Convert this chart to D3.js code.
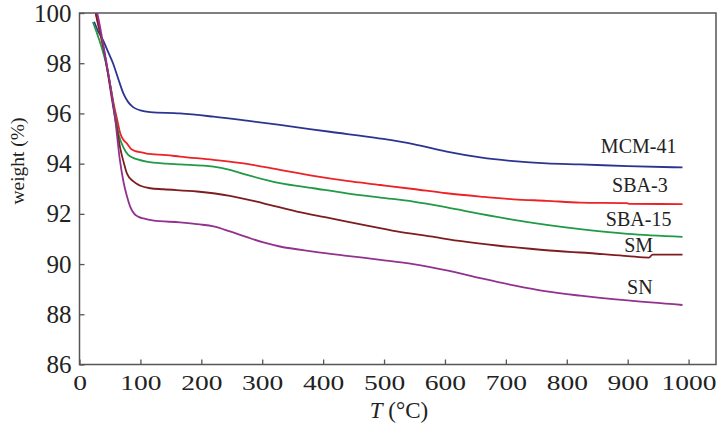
<!DOCTYPE html>
<html>
<head>
<meta charset="utf-8">
<script src="https://cdn.jsdelivr.net/npm/d3@7"></script>
<style>
  body { margin: 0; background: #fff; }
  text { font-family: "Liberation Serif", "Times New Roman", Times, serif; fill: #222; }
</style>
</head>
<body>
<svg id="chart" width="718" height="425"></svg>
<script>
// TGA curves (temperature in °C, weight in %)
const tMCM = [24, 30, 39, 47, 55, 64, 72, 80, 88, 100, 116, 165, 220, 275, 329, 411, 494, 548, 603, 658, 713, 767, 822, 900, 990];
const wMCM = [99.65, 99.3, 98.9, 98.45, 98.0, 97.35, 96.8, 96.45, 96.25, 96.12, 96.05, 96.0, 95.87, 95.71, 95.54, 95.27, 95.0, 94.78, 94.48, 94.25, 94.1, 94.01, 93.97, 93.9, 93.85];

const tSBA3 = [24, 34, 42, 50, 56, 62, 67, 72, 78, 84, 92, 100, 110, 143, 165, 220, 275, 329, 384, 439, 494, 548, 603, 658, 713, 767, 822, 898, 902, 990];
const wSBA3 = [100.3, 99.2, 98.2, 97.2, 96.4, 95.73, 95.2, 94.95, 94.8, 94.6, 94.5, 94.46, 94.4, 94.34, 94.28, 94.15, 93.99, 93.75, 93.51, 93.31, 93.15, 92.99, 92.82, 92.69, 92.58, 92.52, 92.45, 92.43, 92.40, 92.39];

const tSBA15 = [22, 30, 38, 45, 52, 58, 65, 72, 80, 88, 94, 110, 143, 165, 220, 247, 275, 329, 384, 439, 494, 548, 603, 658, 713, 767, 822, 900, 990];
const wSBA15 = [99.64, 99.1, 98.5, 97.85, 96.9, 96.0, 95.1, 94.65, 94.35, 94.23, 94.18, 94.08, 94.0, 93.97, 93.88, 93.75, 93.55, 93.22, 93.02, 92.82, 92.65, 92.49, 92.26, 92.0, 91.76, 91.56, 91.39, 91.2, 91.08];

const tSM = [24, 30, 38, 45, 53, 61, 67, 72, 78, 88, 99, 116, 138, 193, 247, 302, 357, 411, 466, 521, 576, 630, 685, 740, 795, 822, 900, 935, 941, 990];
const wSM = [100.3, 99.6, 98.8, 97.85, 96.6, 95.45, 94.6, 94.1, 93.6, 93.3, 93.13, 93.02, 92.98, 92.89, 92.72, 92.42, 92.09, 91.83, 91.56, 91.3, 91.1, 90.9, 90.74, 90.61, 90.5, 90.46, 90.32, 90.26, 90.38, 90.38];

const tSN = [22, 30, 40, 50, 58, 66, 72, 78, 83, 90, 97, 105, 120, 165, 198, 220, 247, 275, 302, 329, 384, 439, 494, 548, 603, 658, 713, 767, 822, 900, 990];
const wSN = [100.6, 99.9, 98.6, 97.2, 95.9, 94.2, 93.3, 92.69, 92.3, 92.0, 91.88, 91.82, 91.74, 91.66, 91.58, 91.5, 91.3, 91.07, 90.86, 90.7, 90.5, 90.33, 90.17, 90.0, 89.75, 89.44, 89.15, 88.91, 88.74, 88.55, 88.37];

const seriesNames = ['MCM-41', 'SBA-3', 'SBA-15', 'SM', 'SN'];
const seriesColors = ['#2b3590', '#ec2227', '#1f9a45', '#7e1d20', '#93318f'];
// label anchor: temperature (centre) and weight (baseline)
const labelT = [918, 920, 918, 918, 920];
const labelW = [94.42, 92.86, 91.5, 90.47, 88.79];

const xTicks = [0, 100, 200, 300, 400, 500, 600, 700, 800, 900, 1000];
const yTicks = [86, 88, 90, 92, 94, 96, 98, 100];

const series = [
  { name: seriesNames[0], t: tMCM, w: wMCM },
  { name: seriesNames[1], t: tSBA3, w: wSBA3 },
  { name: seriesNames[2], t: tSBA15, w: wSBA15 },
  { name: seriesNames[3], t: tSM, w: wSM },
  { name: seriesNames[4], t: tSN, w: wSN }
];

const margin = { t: 13, r: 2, b: 60, l: 79.5 };
const W = 718, H = 425;
const innerWidth = W - margin.l - margin.r;
const innerHeight = H - margin.t - margin.b - 0.5;

const x = d3.scaleLinear().domain([0, 1045]).range([0, innerWidth]);
const y = d3.scaleLinear().domain([86, 100]).range([innerHeight, 0]);

const svg = d3.select('#chart');
const plot = svg.append('g').attr('transform', `translate(${margin.l}, ${margin.t})`);

plot.append('clipPath').attr('id', 'clip')
  .append('rect').attr('width', innerWidth).attr('height', innerHeight);

// curves
const line = d3.line()
  .x(d => x(d[0]))
  .y(d => y(d[1]))
  .curve(d3.curveMonotoneX);

plot.append('g').attr('clip-path', 'url(#clip)')
  .selectAll('path')
  .data(series)
  .join('path')
  .attr('d', s => line(s.t.map((t, i) => [t, s.w[i]])))
  .attr('fill', 'none')
  .attr('stroke', (s, i) => seriesColors[i])
  .attr('stroke-width', 1.8);

// frame
plot.append('rect')
  .attr('width', innerWidth).attr('height', innerHeight)
  .attr('fill', 'none').attr('stroke', '#555').attr('stroke-width', 1.5);

// axes, ticks pointing inward
const axisX = d3.axisBottom(x).tickValues(xTicks).tickFormat(d3.format('d'))
  .tickSizeInner(-5).tickSizeOuter(0).tickPadding(10);
const axisY = d3.axisLeft(y).tickValues(yTicks).tickFormat(d3.format('d'))
  .tickSizeInner(-5).tickSizeOuter(0).tickPadding(8);

const gx = plot.append('g')
  .attr('class', 'axis axis-x')
  .attr('transform', `translate(0, ${innerHeight})`)
  .call(axisX)
  .attr('font-family', '"Liberation Serif", "Times New Roman", serif')
  .attr('font-size', 22);
gx.select('.domain').remove();
gx.selectAll('line').attr('stroke', '#555').attr('stroke-width', 1.3);
gx.selectAll('text')
  .attr('fill', '#222')
  .attr('transform', 'scale(1.25,1)');

const gy = plot.append('g')
  .attr('class', 'axis axis-y')
  .call(axisY)
  .attr('font-family', '"Liberation Serif", "Times New Roman", serif')
  .attr('font-size', 25);
gy.select('.domain').remove();
gy.selectAll('line').attr('stroke', '#555').attr('stroke-width', 1.3);
gy.selectAll('text').attr('fill', '#222');

// series labels
plot.selectAll('.lbl')
  .data(seriesNames)
  .join('text')
  .attr('class', 'lbl')
  .attr('x', (d, i) => x(labelT[i]))
  .attr('y', (d, i) => y(labelW[i]))
  .attr('text-anchor', 'middle')
  .style('font-size', '20px')
  .text(d => d);

// axis titles
const xt = svg.append('text')
  .attr('x', 399).attr('y', 418)
  .attr('text-anchor', 'middle')
  .style('font-size', '23px');
xt.append('tspan').style('font-style', 'italic').text('T');
xt.append('tspan').text(' (°C)');

svg.append('text')
  .attr('transform', 'translate(24, 161) rotate(-90)')
  .attr('text-anchor', 'middle')
  .style('font-size', '19.5px')
  .text('weight (%)');
</script>
</body>
</html>
